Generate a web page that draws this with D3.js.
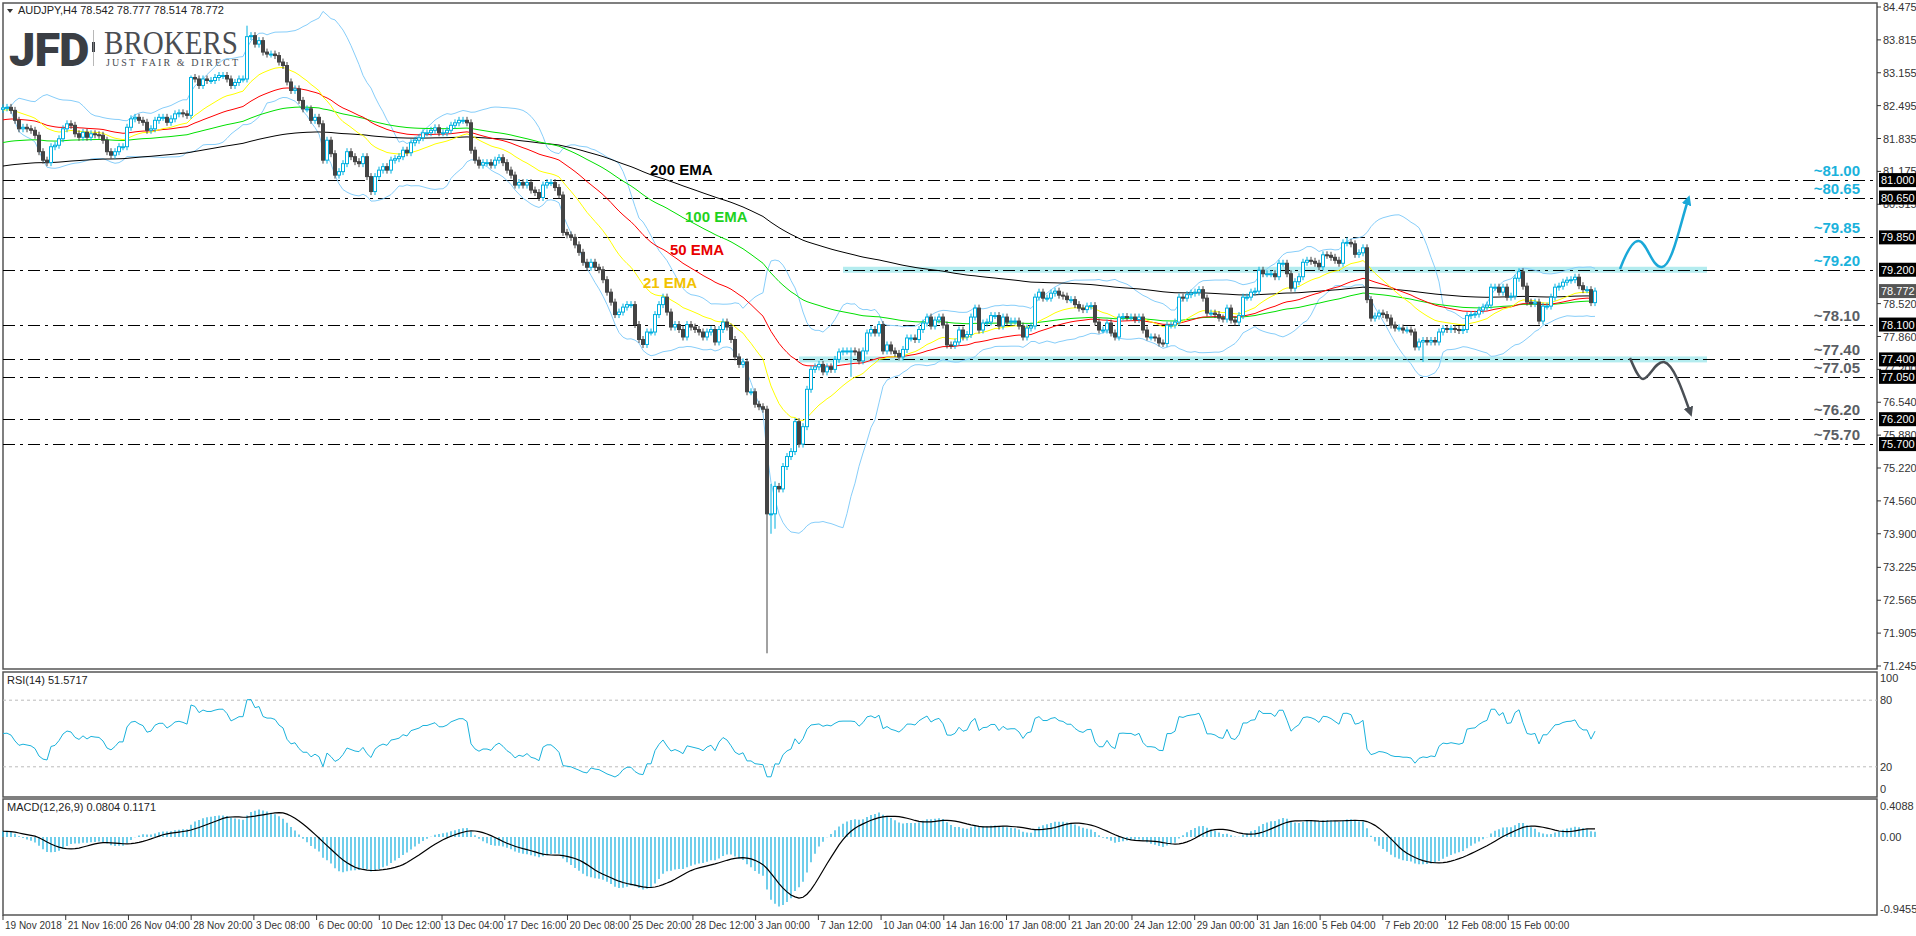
<!DOCTYPE html>
<html><head><meta charset="utf-8">
<script src="https://cdn.jsdelivr.net/npm/d3@7"></script>
<style>body{margin:0;background:#fff;overflow:hidden}svg{display:block}</style>
</head><body><svg id="c" width="1916" height="936"></svg>
<script>
// ---- DATA ----
const closes = [
82.45,82.46,82.4,82.2,82.03,82.06,82.03,82.0,81.9,81.57,81.4,81.35,81.67,81.7,81.83,82.03,82.13,82.1,81.93,81.86,81.96,81.86,81.93,81.91,81.9,81.8,81.57,81.5,81.57,81.67,81.67,82.06,82.23,82.26,82.2,82.16,82.0,82.03,82.2,82.26,82.26,82.16,82.23,82.33,82.35,82.33,82.3,83.06,83.03,82.9,83.03,83.0,83.0,83.06,83.1,83.1,83.03,82.9,82.96,83.03,83.03,83.88,83.9,83.73,83.8,83.57,83.53,83.53,83.5,83.37,83.3,82.97,82.8,82.83,82.6,82.43,82.43,82.2,82.26,82.13,81.4,81.8,81.53,81.1,81.17,81.33,81.57,81.47,81.37,81.33,81.47,81.07,80.77,81.07,81.2,81.27,81.2,81.4,81.43,81.47,
81.6,81.55,81.75,81.8,81.85,81.95,81.95,82.0,82.05,81.95,81.95,82.0,82.1,82.15,82.2,82.2,82.15,81.6,81.4,81.3,81.35,81.35,81.3,81.4,81.45,81.35,81.2,81.1,80.9,80.95,80.9,80.95,80.8,80.75,80.65,80.9,80.95,80.95,80.85,80.7,79.95,79.9,79.85,79.7,79.55,79.35,79.25,79.35,79.25,79.2,79.0,78.75,78.55,78.3,78.35,78.45,78.5,78.5,78.1,77.8,77.7,77.95,77.95,78.3,78.5,78.65,78.35,78.05,78.1,78.0,77.85,78.1,78.05,78.0,77.95,77.85,77.95,78.0,77.75,78.0,78.15,78.05,77.8,77.45,77.3,77.35,76.75,76.75,76.5,76.45,76.4,74.3,74.3,74.85,74.8,75.25,75.45,75.55,76.15,75.7,76.05,76.8,77.2,77.25,77.3,77.15,77.25,77.2,77.4,
77.55,77.57,77.57,77.57,77.55,77.37,77.57,77.93,78.0,77.93,78.1,77.57,77.69,77.57,77.52,77.45,77.6,77.83,77.83,77.8,78.0,78.13,78.25,78.07,78.19,78.25,78.09,77.69,77.68,77.75,77.99,77.85,77.9,78.25,78.43,77.99,78.13,78.15,78.28,78.28,78.07,78.25,78.15,78.17,78.17,78.07,77.85,78.03,78.07,78.65,78.75,78.63,78.63,78.73,78.77,78.69,78.67,78.6,78.6,78.5,78.43,78.4,78.47,78.48,78.15,77.99,77.99,78.13,77.93,77.85,78.25,78.26,78.25,78.25,78.2,78.25,77.99,77.85,77.85,77.83,77.73,77.72,78.09,78.09,78.15,78.65,78.63,78.7,78.73,78.75,78.8,
78.63,78.33,78.33,78.3,78.23,78.21,78.43,78.19,78.15,78.28,78.65,78.65,78.75,78.77,79.19,79.12,79.12,79.12,79.06,79.33,79.33,79.12,78.83,78.96,79.06,79.35,79.39,79.37,79.33,79.26,79.5,79.49,79.45,79.39,79.33,79.74,79.75,79.72,79.51,79.54,79.64,78.6,78.23,78.27,78.33,78.3,78.23,78.09,78.03,78.03,77.99,77.99,77.95,77.65,77.75,77.78,77.75,77.78,77.75,77.95,78.02,78.0,78.02,78.0,77.98,78.0,78.28,78.3,78.31,78.39,78.45,78.49,78.85,78.85,78.75,78.85,78.65,78.67,79.03,79.16,78.87,78.55,78.52,78.55,78.17,78.47,78.47,78.65,78.85,78.87,78.95,78.99,79.0,79.05,78.88,78.8,78.8,78.54,78.772];
const firstOpen = 82.42;
const wickExtremes = [[191,null,71.5],[192,74.9,73.9],[193,74.95,74.0],[61,84.1,null],[47,83.1,null],[336,79.85,null],[212,null,77.05],[355,null,77.35]]; // [bar, high, low]
const emaSeeds = {21:82.4, 50:82.2, 100:81.74, 200:81.27};
const levels = [81.00,80.65,79.85,79.20,78.10,77.40,77.05,76.20,75.70];
const levelText = ["~81.00","~80.65","~79.85","~79.20","~78.10","~77.40","~77.05","~76.20","~75.70"];
const levelTags = ["81.000","80.650","79.850","79.200","78.100","77.400","77.050","76.200","75.700"];
const levelCyan = [true,true,true,true,false,false,false,false,false];
const priceTicks = [84.475,83.815,83.155,82.495,81.835,81.175,80.515,78.520,77.860,77.200,76.540,75.880,75.220,74.560,73.900,73.225,72.565,71.905,71.245];
const dateLabels = ["19 Nov 2018","21 Nov 16:00","26 Nov 04:00","28 Nov 20:00","3 Dec 08:00","6 Dec 00:00","10 Dec 12:00","13 Dec 04:00","17 Dec 16:00","20 Dec 08:00","25 Dec 20:00","28 Dec 12:00","3 Jan 00:00","7 Jan 12:00","10 Jan 04:00","14 Jan 16:00","17 Jan 08:00","21 Jan 20:00","24 Jan 12:00","29 Jan 00:00","31 Jan 16:00","5 Feb 04:00","7 Feb 20:00","12 Feb 08:00","15 Feb 00:00"];
const dateStep = 15.68; // bars between labels
const bandRanges = [[79.2,210,426],[77.4,199,426]]; // level, from bar, to bar
const emaLabels = [["200 EMA","#000",650,175],["100 EMA","#1ed21e",685,222],["50 EMA","#e80000",670,255],["21 EMA","#f2c200",643,288]];

// ---- SCALES ----
const svg = d3.select("#c");
const L=3,R=1877,MT=3,MB=669,RT=672,RB=797,DT=799,DB=915;
const n = closes.length;
const x = d3.scaleLinear().domain([0,n-1]).range([3,1595]);
const y = d3.scaleLinear().domain([71.245,84.475]).range([666,7]);
const yR = d3.scaleLinear().domain([0,100]).range([789,678]);
const yM = d3.scaleLinear().domain([-0.9455,0.4088]).range([909,806]);

// ---- DERIVED ----
const bars = closes.map((c,i)=>{const o=i?closes[i-1]:firstOpen;return {i,o,c,h:Math.max(o,c)+0.07,l:Math.min(o,c)-0.07};});
wickExtremes.forEach(([i,h,l])=>{if(h!=null)bars[i].h=h;if(l!=null)bars[i].l=l;});
function ema(p,seed){let k=2/(p+1),v=seed;return closes.map(c=>v=v+k*(c-v));}
const bb = closes.map((c,i)=>{const w=closes.slice(Math.max(0,i-19),i+1);const m=d3.mean(w),s=Math.sqrt(d3.mean(w,v=>(v-m)**2));return {m,u:m+2*s,d:m-2*s};});
let ag=0.07,al=0.07;const rsi=closes.map((c,i)=>{if(i){const d=c-closes[i-1];ag=(ag*13+Math.max(d,0))/14;al=(al*13+Math.max(-d,0))/14;}return 100-100/(1+ag/al);});
let e12=82.42,e26=82.34;const macd=closes.map(c=>{e12+=2/13*(c-e12);e26+=2/27*(c-e26);return e12-e26;});
const sig=macd.map((m,i)=>d3.mean(macd.slice(Math.max(0,i-8),i+1)));

// ---- FRAMES ----
[[MT,MB],[RT,RB],[DT,DB]].forEach(([t,b])=>svg.append("rect").attr("x",L).attr("y",t).attr("width",R-L).attr("height",b-t).attr("fill","none").attr("stroke","#555").attr("stroke-width",1.5));

// logo
svg.append("text").attr("x",9).attr("y",66).attr("font-family","Roboto, Arial").attr("font-weight",900).attr("font-size",47).attr("fill","#3a3e44").attr("letter-spacing",-1).text("JFD");
svg.append("rect").attr("x",92).attr("y",42).attr("width",3).attr("height",10).attr("fill","#3a3e44");
svg.append("line").attr("x1",93.5).attr("x2",93.5).attr("y1",30).attr("y2",66).attr("stroke","#999").attr("stroke-width",0.7);
svg.append("text").attr("x",104).attr("y",54).attr("font-family","Liberation Serif, serif").attr("font-size",33).attr("textLength",134).attr("lengthAdjust","spacingAndGlyphs").attr("fill","#4a4d52").text("BROKERS");
svg.append("text").attr("x",106).attr("y",66).attr("font-family","Liberation Serif, serif").attr("font-size",10).attr("textLength",132).attr("fill","#4a4d52").text("JUST FAIR & DIRECT");
svg.append("path").attr("d","M7,9 L13,9 L10,13 Z").attr("fill","#333");
svg.append("text").attr("x",18).attr("y",14).attr("font-family","Liberation Sans, Arial").attr("font-size",11).attr("fill","#222").text("AUDJPY,H4  78.542 78.777 78.514 78.772");

// bands
bandRanges.forEach(([lv,a,b])=>svg.append("rect").attr("x",x(a)).attr("y",y(lv)-3).attr("width",x(b)-x(a)).attr("height",6).attr("fill","#b4ecef"));
// levels
levels.forEach((lv,k)=>{
  svg.append("line").attr("x1",L).attr("x2",R).attr("y1",Math.round(y(lv))+0.5).attr("y2",Math.round(y(lv))+0.5).attr("stroke","#000").attr("stroke-dasharray","12,5,3,5");
  svg.append("text").attr("x",1860).attr("y",y(lv)-4).attr("text-anchor","end").attr("font-family","Liberation Sans, Arial").attr("font-weight","bold").attr("font-size",15).attr("fill",levelCyan[k]?"#1ab2dc":"#5a5e64").text(levelText[k]);
});

// BB and EMAs
const line=(arr,sc)=>d3.line().x((d,i)=>x(i)).y(d=>sc(d))(arr);
const g=svg.append("g").attr("fill","none");
g.append("path").attr("d",line(bb.map(b=>b.u),y)).attr("stroke","#87cefa");
g.append("path").attr("d",line(bb.map(b=>b.d),y)).attr("stroke","#87cefa");
g.append("path").attr("d",line(ema(200,emaSeeds[200]),y)).attr("stroke","#000");
g.append("path").attr("d",line(ema(100,emaSeeds[100]),y)).attr("stroke","#00e000");
g.append("path").attr("d",line(ema(50,emaSeeds[50]),y)).attr("stroke","#ff0000");
g.append("path").attr("d",line(ema(21,emaSeeds[21]),y)).attr("stroke","#ffff00");

// candles
const cg=svg.append("g");
bars.forEach(b=>{
  const up=b.c>=b.o, col=up?"#00b0e0":"#444";
  cg.append("line").attr("x1",x(b.i)).attr("x2",x(b.i)).attr("y1",y(b.h)).attr("y2",y(b.l)).attr("stroke",col);
  const t=y(Math.max(b.o,b.c)),bt=y(Math.min(b.o,b.c));
  cg.append("rect").attr("x",x(b.i)-1.5).attr("y",t).attr("width",3).attr("height",Math.max(1,bt-t)).attr("fill",up?"#fff":"#444").attr("stroke",col).attr("stroke-width",1);
});

emaLabels.forEach(([t,c,lx,ly])=>svg.append("text").attr("x",lx).attr("y",ly).attr("font-family","Liberation Sans, Arial").attr("font-weight","bold").attr("font-size",15).attr("fill",c).text(t));

// arrows
svg.append("defs").html('<marker id="ac" viewBox="0 0 10 10" refX="5" refY="5" markerWidth="4" markerHeight="4" orient="auto"><path d="M0,0L10,5L0,10z" fill="#1aa8d8"/></marker><marker id="ad" viewBox="0 0 10 10" refX="5" refY="5" markerWidth="4" markerHeight="4" orient="auto"><path d="M0,0L10,5L0,10z" fill="#4a4f55"/></marker>');
svg.append("path").attr("d","M1620,269 C1628,248 1634,240 1639,241 C1647,242 1652,268 1662,267 C1672,266 1680,225 1688,200").attr("fill","none").attr("stroke","#1aa8d8").attr("stroke-width",2.5).attr("marker-end","url(#ac)");
svg.append("path").attr("d","M1630,358 C1635,370 1639,379 1643,379 C1650,378 1655,361 1664,362 C1674,364 1684,395 1690,412").attr("fill","none").attr("stroke","#4a4f55").attr("stroke-width",2.5).attr("marker-end","url(#ad)");

// price axis
const ax=svg.append("g").attr("font-family","Liberation Sans, Arial").attr("font-size",11).attr("fill","#333");
priceTicks.forEach(p=>{ax.append("line").attr("x1",R).attr("x2",R+4).attr("y1",y(p)).attr("y2",y(p)).attr("stroke","#333");ax.append("text").attr("x",R+6).attr("y",y(p)+4).text(p.toFixed(3));});
levels.forEach((lv,k)=>{ax.append("rect").attr("x",R+2).attr("y",y(lv)-7).attr("width",37).attr("height",14).attr("fill","#000");ax.append("text").attr("x",R+4).attr("y",y(lv)+4).attr("fill","#fff").text(levelTags[k]);});
ax.append("rect").attr("x",R+2).attr("y",y(78.772)-7).attr("width",37).attr("height",14).attr("fill","#555");
ax.append("text").attr("x",R+4).attr("y",y(78.772)+4).attr("fill","#fff").text("78.772");

// RSI
svg.append("text").attr("x",7).attr("y",684).attr("font-family","Liberation Sans, Arial").attr("font-size",11).attr("fill","#222").text("RSI(14) 51.5717");
[80,20].forEach(v=>svg.append("line").attr("x1",L).attr("x2",R).attr("y1",yR(v)).attr("y2",yR(v)).attr("stroke","#bbb").attr("stroke-dasharray","3,3"));
[100,80,20,0].forEach(v=>ax.append("text").attr("x",R+3).attr("y",yR(v)+4).text(v));
svg.append("path").attr("d",line(rsi,yR)).attr("fill","none").attr("stroke","#1ab2dc");

// MACD
svg.append("text").attr("x",7).attr("y",811).attr("font-family","Liberation Sans, Arial").attr("font-size",11).attr("fill","#222").text("MACD(12,26,9) 0.0804 0.1171");
macd.forEach((m,i)=>svg.append("line").attr("x1",x(i)).attr("x2",x(i)).attr("y1",yM(0)).attr("y2",yM(m)).attr("stroke","#22b4e0").attr("stroke-width",1.3));
svg.append("path").attr("d",line(sig,yM)).attr("fill","none").attr("stroke","#000").attr("stroke-width",1.2);
[[0.4088,"0.4088"],[0,"0.00"],[-0.9455,"-0.9455"]].forEach(([v,t])=>ax.append("text").attr("x",R+3).attr("y",yM(v)+4).text(t));

// date axis
dateLabels.forEach((t,k)=>{const xx=x(k*dateStep);
  svg.append("line").attr("x1",xx).attr("x2",xx).attr("y1",DB).attr("y2",DB+5).attr("stroke","#333");
  svg.append("text").attr("x",xx+2).attr("y",929).attr("font-family","Liberation Sans, Arial").attr("font-size",10).attr("fill","#333").text(t);});
</script></body></html>
